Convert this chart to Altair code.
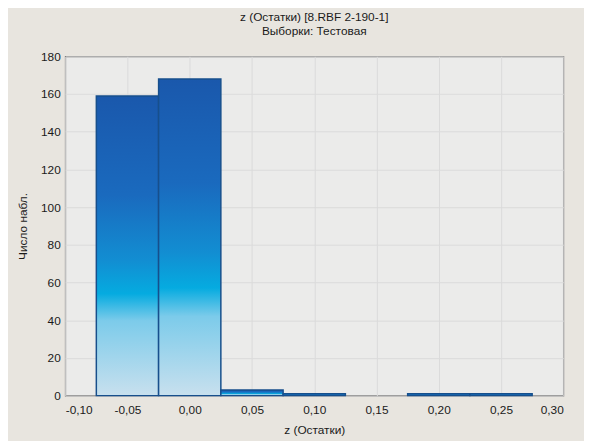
import altair as alt
import pandas as pd

bin_start = [-0.075, -0.025, 0.025, 0.075, 0.175, 0.225]
bin_width = 0.05
counts = [159, 168, 3, 1, 1, 1]
x_ticks = [-0.10, -0.05, 0.00, 0.05, 0.10, 0.15, 0.20, 0.25, 0.30]
y_ticks = [0, 20, 40, 60, 80, 100, 120, 140, 160, 180]

df = pd.DataFrame({
    "start": bin_start,
    "end": [s + bin_width for s in bin_start],
    "count": counts,
})

grad = alt.Gradient(
    gradient="linear",
    x1=0, x2=0, y1=0, y2=1,
    stops=[
        alt.GradientStop(color="#1a58ac", offset=0.0),
        alt.GradientStop(color="#1a6abe", offset=0.33),
        alt.GradientStop(color="#128ed2", offset=0.55),
        alt.GradientStop(color="#05abe0", offset=0.66),
        alt.GradientStop(color="#7ccbea", offset=0.75),
        alt.GradientStop(color="#c8e0ee", offset=1.0),
    ],
)

xfmt = "replace(replace(format(datum.value, '.2f'), '.', ','), '\u2212', '-')"

bars = alt.Chart(df).mark_bar(
    color=grad, stroke="#174f8c", strokeWidth=1.5
).encode(
    x=alt.X("start:Q",
            scale=alt.Scale(domain=[-0.1, 0.3], nice=False, zero=False),
            axis=alt.Axis(values=x_ticks, labelExpr=xfmt, title="z (Остатки)",
                          grid=True, gridColor="#dadada", domain=False,
                          ticks=False, labelFontSize=12,
                          labelColor="#1a1a1a", titleFontSize=12, titleFontWeight="normal",
                          titleColor="#1a1a1a", titlePadding=9, labelPadding=9,
                          labelFont="Liberation Sans", titleFont="Liberation Sans")),
    x2="end:Q",
    y=alt.Y("count:Q",
            scale=alt.Scale(domain=[0, 180], nice=False),
            axis=alt.Axis(values=y_ticks, title="Число набл.",
                          grid=True, gridColor="#dadada", domain=False,
                          ticks=False, labelFontSize=12,
                          labelColor="#1a1a1a", titleFontSize=12, titleFontWeight="normal",
                          titleColor="#1a1a1a", titlePadding=11, labelPadding=5,
                          labelFont="Liberation Sans", titleFont="Liberation Sans")),
    y2=alt.datum(0),
)

chart = bars.properties(
    width=505,
    height=344,
    background="#e8e5df",
    padding={"left": 58, "top": 46, "right": 21, "bottom": 43},
    autosize=alt.AutoSizeParams(type="none"),
    title=alt.TitleParams(
        text=["z (Остатки) [8.RBF 2-190-1]", "Выборки: Тестовая"],
        fontSize=12, fontWeight="normal", font="Liberation Sans",
        color="#1a1a1a", anchor="middle", offset=13, lineHeight=14,
    ),
).configure_view(
    fill="#ebebea", stroke="#555555", strokeWidth=1.2
)

chart.save("out.html", embed_options={"renderer": "svg", "actions": False})
